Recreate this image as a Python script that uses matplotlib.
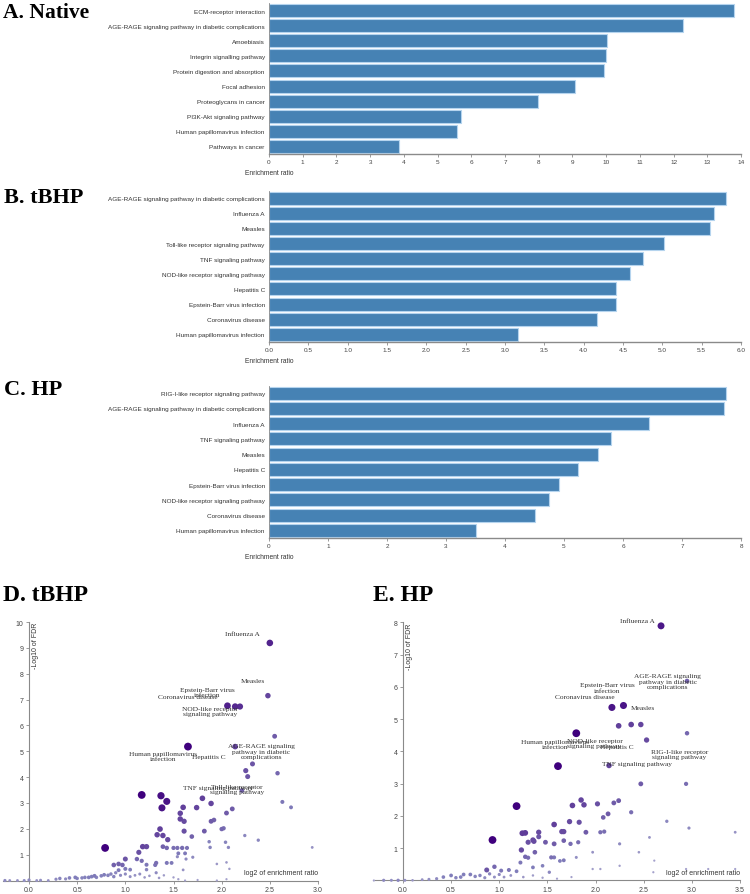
import matplotlib
matplotlib.use("Agg")
import matplotlib.pyplot as plt
import numpy as np

# ---------------- data ----------------
native_terms = ["ECM-receptor interaction",
                "AGE-RAGE signaling pathway in diabetic complications",
                "Amoebiasis", "Integrin signalling pathway",
                "Protein digestion and absorption", "Focal adhesion",
                "Proteoglycans in cancer", "PI3K-Akt signaling pathway",
                "Human papillomavirus infection", "Pathways in cancer"]
native_ratio = [13.80, 12.28, 10.04, 9.99, 9.93, 9.08, 7.99, 5.70, 5.57, 3.86]
native_ticks = list(range(0, 15))

tbhp_terms = ["AGE-RAGE signaling pathway in diabetic complications",
              "Influenza A", "Measles", "Toll-like receptor signaling pathway",
              "TNF signaling pathway", "NOD-like receptor signaling pathway",
              "Hepatitis C", "Epstein-Barr virus infection",
              "Coronavirus disease", "Human papillomavirus infection"]
tbhp_ratio = [5.81, 5.66, 5.60, 5.02, 4.75, 4.59, 4.41, 4.41, 4.17, 3.16]
tbhp_ticks = [0.0, 0.5, 1.0, 1.5, 2.0, 2.5, 3.0, 3.5, 4.0, 4.5, 5.0, 5.5, 6.0]

hp_terms = ["RIG-I-like receptor signaling pathway",
            "AGE-RAGE signaling pathway in diabetic complications",
            "Influenza A", "TNF signaling pathway", "Measles", "Hepatitis C",
            "Epstein-Barr virus infection", "NOD-like receptor signaling pathway",
            "Coronavirus disease", "Human papillomavirus infection"]
hp_ratio = [7.75, 7.71, 6.44, 5.79, 5.58, 5.23, 4.92, 4.74, 4.51, 3.50]
hp_ticks = list(range(0, 9))

# volcano D (tBHP): log2 enrichment ratio, -log10 FDR, category size
d_x = [2.50, 2.48, 2.06, 2.14, 2.19, 2.55, 1.65, 2.14, 2.32, 2.25, 2.27, 2.58, 2.21,
       1.17, 1.37, 1.43, 1.38, 1.80, 1.89, 1.74, 1.60, 1.57, 1.57, 1.61, 2.11, 2.05,
       2.63, 2.72, 1.36, 1.33, 1.39, 1.44, 1.61, 1.82, 1.89, 1.92, 2.00, 2.02, 2.24,
       2.38, 1.87, 1.88, 2.04, 2.07, 1.69, 0.79, 1.18, 1.22, 1.14, 1.39, 1.43, 1.50,
       1.54, 1.59, 1.64, 1.55, 1.62, 1.54, 1.63, 1.70, 1.00, 1.12, 1.17, 0.93, 0.88,
       0.97, 1.22, 1.32, 1.31, 1.43, 1.48, 1.60, 1.00, 0.93, 1.05, 1.22, 1.32, 1.95,
       2.05, 2.08, 2.94, 3.58,
       -0.25, -0.20, -0.12, -0.05, 0.00, 0.08, 0.12, 0.20, 0.28, 0.32, 0.38, 0.42,
       0.48, 0.50, 0.55, 0.58, 0.62, 0.65, 0.68, 0.70, 0.75, 0.78, 0.82, 0.85, 0.88,
       0.90, 0.95, 1.00, 1.05, 1.10, 1.15, 1.20, 1.25, 1.35, 1.40, 1.50, 1.55, 1.62,
       1.75, 1.95, 2.05]
d_y = [9.19, 7.15, 6.76, 6.73, 6.73, 5.58, 5.18, 5.18, 4.51, 4.25, 4.02, 4.15, 3.48,
       3.31, 3.28, 3.06, 2.81, 3.18, 2.98, 2.82, 2.83, 2.60, 2.38, 2.29, 2.77, 2.61,
       3.04, 2.83, 1.99, 1.77, 1.74, 1.58, 1.91, 1.91, 2.29, 2.34, 1.99, 2.02, 1.74,
       1.56, 1.50, 1.28, 1.48, 1.28, 1.70, 1.26, 1.31, 1.31, 1.09, 1.31, 1.26, 1.26,
       1.26, 1.26, 1.26, 1.05, 1.05, 0.92, 0.83, 0.90, 0.83, 0.83, 0.76, 0.64, 0.60,
       0.60, 0.61, 0.68, 0.60, 0.68, 0.68, 0.41, 0.45, 0.40, 0.42, 0.42, 0.30, 0.64,
       0.70, 0.45, 1.28, 0.00,
       0.00, 0.00, 0.00, 0.00, 0.02, 0.00, 0.01, 0.00, 0.05, 0.08, 0.06, 0.10,
       0.12, 0.08, 0.10, 0.12, 0.12, 0.15, 0.18, 0.12, 0.18, 0.22, 0.20, 0.25, 0.15,
       0.30, 0.20, 0.25, 0.15, 0.20, 0.25, 0.12, 0.18, 0.10, 0.20, 0.12, 0.05, 0.00,
       0.02, 0.00, 0.05]
d_n = [220, 140, 230, 210, 190, 100, 330, 150, 110, 120, 110, 80, 90,
       330, 280, 260, 260, 150, 140, 140, 150, 140, 140, 130, 100, 100,
       60, 55, 150, 140, 140, 130, 120, 100, 100, 90, 80, 75, 35,
       35, 40, 40, 40, 35, 90, 330, 140, 130, 120, 90, 80, 70,
       70, 75, 65, 55, 55, 30, 30, 30, 110, 80, 70, 90, 90,
       85, 60, 70, 65, 60, 55, 20, 60, 55, 50, 40, 30, 15,
       15, 12, 20, 8,
       30, 20, 20, 25, 30, 20, 25, 20, 30, 40, 30, 45,
       50, 40, 40, 45, 50, 50, 55, 40, 45, 50, 45, 40, 40,
       35, 30, 30, 25, 20, 25, 15, 15, 15, 12, 10, 10, 8,
       8, 8, 8]

d_labels = ["Influenza A", "Measles", "Epstein-Barr virus\ninfection",
            "Coronavirus disease", "NOD-like receptor\nsignaling pathway",
            "Human papillomavirus\ninfection", "Hepatitis C",
            "AGE-RAGE signaling\npathway in diabetic\ncomplications",
            "Toll-like receptor\nsignaling pathway", "TNF signaling pathway"]
d_lab_x = [2.22, 2.32, 1.85, 1.65, 1.88, 1.39, 1.87, 2.41, 2.16, 1.96]
d_lab_y = [9.57, 7.72, 7.29, 7.13, 6.55, 4.82, 4.78, 5.00, 3.54, 3.58]

# volcano E (HP)
e_x = [2.68, 2.95, 2.17, 2.29, 2.24, 2.37, 2.47, 1.80, 2.95, 2.53, 1.61, 2.14, 2.47,
       2.94, 1.18, 1.76, 1.85, 1.88, 2.02, 2.19, 2.24, 2.13, 2.08, 2.37, 2.74, 2.97,
       3.45, 2.56, 1.57, 1.73, 1.83, 1.65, 1.67, 1.90, 1.24, 1.27, 1.41, 1.35, 1.36,
       1.30, 1.41, 1.48, 1.57, 1.67, 1.74, 1.82, 2.05, 2.09, 2.25, 0.93, 1.23, 1.37,
       1.97, 2.45, 1.27, 1.30, 1.54, 1.57, 1.63, 1.67, 1.80, 0.87, 0.95, 1.02, 1.10,
       1.18, 1.22, 1.35, 1.45, 1.52, 3.45, 2.61, 2.94, 3.17, 2.25, 1.97, 2.05, 2.60,
       -0.20, -0.12, -0.05, 0.02, 0.10, 0.20, 0.27, 0.35, 0.42, 0.50, 0.55, 0.60,
       0.63, 0.70, 0.75, 0.80, 0.85, 0.90, 0.95, 1.00, 1.05, 1.12, 1.25, 1.35, 1.45,
       1.60, 1.75]
e_y = [7.89, 6.18, 5.36, 5.42, 4.79, 4.83, 4.83, 4.56, 4.56, 4.35, 3.54, 3.56, 2.99,
       2.99, 2.30, 2.32, 2.49, 2.34, 2.37, 2.40, 2.47, 2.06, 1.95, 2.11, 1.83, 1.62,
       1.49, 1.33, 1.73, 1.82, 1.80, 1.51, 1.51, 1.49, 1.46, 1.47, 1.49, 1.25, 1.21,
       1.18, 1.35, 1.18, 1.13, 1.23, 1.13, 1.18, 1.49, 1.51, 1.13, 1.25, 0.94, 0.87,
       0.87, 0.87, 0.73, 0.70, 0.71, 0.71, 0.60, 0.62, 0.71, 0.32, 0.42, 0.30, 0.32,
       0.28, 0.55, 0.40, 0.45, 0.25, 0.35, 0.61, 0.35, 0.35, 0.45, 0.35, 0.35, 0.25,
       0.00, 0.00, 0.00, 0.00, 0.00, 0.02, 0.03, 0.05, 0.10, 0.15, 0.08, 0.10,
       0.18, 0.18, 0.12, 0.15, 0.08, 0.20, 0.10, 0.18, 0.10, 0.15, 0.10, 0.15, 0.08,
       0.05, 0.10]
e_n = [250, 90, 260, 260, 150, 150, 140, 330, 80, 130, 330, 140, 100,
       70, 330, 150, 140, 140, 120, 100, 100, 100, 90, 70, 35, 30,
       20, 20, 150, 130, 120, 130, 130, 100, 160, 160, 130, 130, 130,
       120, 110, 100, 100, 90, 75, 70, 70, 70, 30, 330, 130, 90,
       20, 15, 80, 70, 70, 60, 50, 55, 25, 110, 80, 60, 60,
       50, 60, 50, 45, 35, 8, 8, 8, 8, 10, 10, 10, 8,
       30, 25, 35, 25, 15, 20, 25, 30, 45, 50, 40, 45,
       50, 50, 40, 40, 30, 35, 25, 30, 20, 20, 15, 12, 10,
       8, 8]

e_labels = ["Influenza A", "AGE-RAGE signaling\npathway in diabetic\ncomplications",
            "Epstein-Barr virus\ninfection", "Coronavirus disease", "Measles",
            "Human papillomavirus\ninfection", "NOD-like receptor\nsignaling pathway",
            "Hepatitis C", "RIG-I-like receptor\nsignaling pathway",
            "TNF signaling pathway"]
e_lab_x = [2.43, 2.75, 2.12, 1.89, 2.49, 1.58, 1.99, 2.22, 2.87, 2.43]
e_lab_y = [8.06, 6.17, 5.98, 5.71, 5.37, 4.22, 4.25, 4.16, 3.91, 3.63]

# ---------------- figure ----------------
W, H = 750, 895
fig = plt.figure(figsize=(W / 100, H / 100), dpi=100)
fig.patch.set_facecolor("white")

SANS = ["Liberation Sans", "DejaVu Sans"]
SERIF = ["Liberation Serif", "DejaVu Serif"]
AXC = "#8a8a8a"
TXC = "#333333"


def px_rect(left, top, right, bottom):
    return [left / W, 1 - bottom / H, (right - left) / W, (bottom - top) / H]


def bar_panel(rect, terms, vals, ticks, fmt):
    ax = fig.add_axes(rect)
    pos = np.arange(len(terms))
    ax.barh(pos, vals, height=0.86, color="#4682b4", edgecolor="#b5d4ee",
            linewidth=0.8, zorder=2)
    ax.set_ylim(len(terms) - 0.5, -0.5)
    ax.set_xlim(ticks[0], ticks[-1])
    ax.set_yticks(pos)
    ax.set_yticklabels(terms, fontsize=4.6, family=SANS, color=TXC)
    ax.set_xticks(ticks)
    ax.set_xticklabels([fmt.format(t) for t in ticks], fontsize=4.6,
                       family=SANS, color="#444444")
    ax.tick_params(axis="y", length=0, pad=3)
    ax.tick_params(axis="x", length=2.5, width=0.6, color=AXC, pad=1.2)
    for s in ("top", "right"):
        ax.spines[s].set_visible(False)
    ax.spines["bottom"].set_color(AXC)
    ax.spines["bottom"].set_linewidth(1.0)
    ax.spines["left"].set_color(AXC)
    ax.spines["left"].set_linewidth(0.6)
    ax.set_xlabel("Enrichment ratio", fontsize=4.8, family=SANS, color=TXC)
    ax.xaxis.set_label_coords(0, -0.1)
    return ax


bar_panel(px_rect(269, 4, 741, 155), native_terms, native_ratio, native_ticks, "{:d}")
bar_panel(px_rect(269, 191.5, 741, 343), tbhp_terms, tbhp_ratio, tbhp_ticks, "{:.1f}")
bar_panel(px_rect(269, 386.5, 741, 539), hp_terms, hp_ratio, hp_ticks, "{:d}")

fig.text(3 / W, 1 - 13.5 / H, "A. Native", family=SERIF, fontweight="bold",
         fontsize=15.5, va="center", ha="left", color="black")
fig.text(4 / W, 1 - 198 / H, "B. tBHP", family=SERIF, fontweight="bold",
         fontsize=16, va="center", ha="left", color="black")
fig.text(4 / W, 1 - 390 / H, "C. HP", family=SERIF, fontweight="bold",
         fontsize=16, va="center", ha="left", color="black")


def volcano(rect, xs, ys, ns, xlim, ylim, xticks, yticks, labels, lx, ly):
    ax = fig.add_axes(rect)
    xs = np.asarray(xs, float)
    ys = np.asarray(ys, float)
    ns = np.asarray(ns, float)
    frac = np.sqrt(ns / 330.0)
    diam_px = 1.2 + 6.6 * frac
    sizes = (diam_px * 0.72) ** 2
    cols = plt.cm.Purples(0.38 + 0.62 * frac)
    order = np.argsort(ns)
    ax.scatter(xs[order], ys[order], s=sizes[order], c=cols[order],
               linewidths=0, clip_on=False, zorder=3)
    ax.set_xlim(*xlim)
    ax.set_ylim(*ylim)
    ax.spines["left"].set_position(("data", 0))
    for s in ("top", "right"):
        ax.spines[s].set_visible(False)
    for s in ("left", "bottom"):
        ax.spines[s].set_color(AXC)
        ax.spines[s].set_linewidth(0.8)
    ax.set_xticks(xticks)
    ax.set_xticklabels(["{:.1f}".format(t) for t in xticks], fontsize=5,
                       family=SANS, color="#444444")
    ax.set_yticks(yticks)
    ax.set_yticklabels([str(t) for t in yticks], fontsize=5, family=SANS,
                       color="#444444")
    ax.tick_params(length=2.5, width=0.6, color=AXC, pad=1.5)
    ax.annotate("-Log10 of FDR", xy=(0, ylim[1]), xytext=(2.5, 0),
                textcoords="offset points", rotation=90, ha="left", va="top",
                fontsize=5, family=SANS, color=TXC)
    ax.annotate("log2 of enrichment ratio", xy=(xlim[1], 0), xytext=(0, 3),
                textcoords="offset points", ha="right", va="bottom",
                fontsize=5, family=SANS, color=TXC)
    for t, x, y in zip(labels, lx, ly):
        ax.text(x, y, t, ha="center", va="center", fontsize=5.3, family=SERIF,
                color=TXC, linespacing=1.1, zorder=4)
    return ax


volcano([3 / W, 1 - 881.5 / H, 315 / W, 258.5 / H], d_x, d_y, d_n,
        (-0.27, 3.0), (0, 10), [0.0, 0.5, 1.0, 1.5, 2.0, 2.5, 3.0],
        list(range(1, 11)), d_labels, d_lab_x, d_lab_y)
volcano([375 / W, 1 - 881.3 / H, 365 / W, 258 / H], e_x, e_y, e_n,
        (-0.29, 3.5), (0, 8), [0.0, 0.5, 1.0, 1.5, 2.0, 2.5, 3.0, 3.5],
        list(range(1, 9)), e_labels, e_lab_x, e_lab_y)

fig.text(3 / W, 1 - 596 / H, "D. tBHP", family=SERIF, fontweight="bold",
         fontsize=17, va="center", ha="left", color="black")
fig.text(373 / W, 1 - 596 / H, "E. HP", family=SERIF, fontweight="bold",
         fontsize=17, va="center", ha="left", color="black")

fig.savefig("out.png", dpi=100, facecolor="white")
